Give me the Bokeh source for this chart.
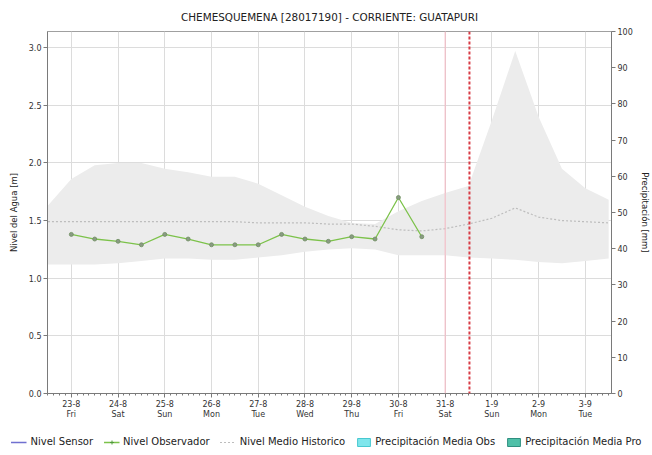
from bokeh.plotting import figure
from bokeh.layouts import column
from bokeh.models import (Range1d, LinearAxis, FixedTicker, Legend, LegendItem, Span,
                          NumeralTickFormatter)
from bokeh.embed import file_html
from bokeh.resources import INLINE

# ---- data ----
tick_days = [0, 1, 2, 3, 4, 5, 6, 7, 8, 9, 10, 11]
tick_labels = ["23-8\nFri", "24-8\nSat", "25-8\nSun", "26-8\nMon", "27-8\nTue", "28-8\nWed",
               "29-8\nThu", "30-8\nFri", "31-8\nSat", "1-9\nSun", "2-9\nMon", "3-9\nTue"]

obs_day = [0, 0.5, 1, 1.5, 2, 2.5, 3, 3.5, 4, 4.5, 5, 5.5, 6, 6.5, 7, 7.5]
obs_level = [1.38, 1.34, 1.32, 1.29, 1.38, 1.34, 1.29, 1.29, 1.29, 1.38, 1.34, 1.32,
             1.36, 1.34, 1.70, 1.36]

sensor_day = []
sensor_level = []

hist_day = [-0.5, 0, 0.5, 1, 1.5, 2, 2.5, 3, 3.5, 4, 4.5, 5, 5.5, 6, 6.5, 7, 7.5,
            8, 8.5, 9, 9.5, 10, 10.5, 11, 11.5]
hist_high = [1.63, 1.86, 1.98, 2.00, 2.00, 1.95, 1.92, 1.88, 1.88, 1.82, 1.72, 1.62, 1.54,
             1.48, 1.47, 1.58, 1.67, 1.74, 1.80, 2.37, 2.97, 2.40, 1.95, 1.78, 1.68]
hist_low = [1.12, 1.12, 1.12, 1.13, 1.15, 1.17, 1.17, 1.16, 1.16, 1.18, 1.20, 1.23, 1.25,
            1.26, 1.25, 1.20, 1.20, 1.20, 1.18, 1.17, 1.16, 1.14, 1.13, 1.15, 1.17]
hist_med = [1.49, 1.49, 1.49, 1.49, 1.49, 1.49, 1.49, 1.49, 1.49, 1.48, 1.48, 1.48, 1.47,
            1.47, 1.45, 1.42, 1.41, 1.43, 1.47, 1.52, 1.61, 1.53, 1.50, 1.49, 1.48]

precip_obs_day = []
precip_obs = []
precip_pro_day = []
precip_pro = []

day_start_marker = 8
now_marker = 8.52

FONT = "DejaVu Sans"

# styles
C_SEN = "#7070d0"
C_OBS = "#7cc24a"
C_MED = "#bdbdbd"
C_PO, C_PO_L = "#7fe6ec", "#48c8d0"
C_PP, C_PP_L = "#4fc0a8", "#2f8f80"

p = figure(width=652, height=428, x_range=Range1d(-0.51, 11.56), y_range=Range1d(0, 3.14),
           output_backend="svg", toolbar_location=None,
           min_border_left=47, min_border_right=41, min_border_top=30, min_border_bottom=35,
           background_fill_color="white", border_fill_color="white")
p.outline_line_color = "#a0a0a0"
p.frame_align = False

p.title.text = "CHEMESQUEMENA [28017190] - CORRIENTE: GUATAPURI"
p.title.align = "center"
p.title.text_font = FONT
p.title.text_font_size = "10.4px"
p.title.text_font_style = "normal"
p.title.text_color = "#222222"
p.title.standoff = 17

p.extra_y_ranges = {"precip": Range1d(0, 100)}

# historical band + median
p.varea(x=hist_day, y1=hist_low, y2=hist_high, fill_color="#ececec", fill_alpha=1.0)
p.line(hist_day, hist_med, line_color=C_MED, line_width=1.2, line_dash="2 2")

# sensor (no data) and observer
p.line(sensor_day, sensor_level, line_color=C_SEN, line_width=1.5)
p.line(obs_day, obs_level, line_color=C_OBS, line_width=1.3)
p.scatter(obs_day, obs_level, marker="circle", size=4, fill_color="#8a9a84",
          line_color="#6e8f60", line_width=0.8)

# precipitation (no data)
p.vbar(x=precip_obs_day, top=precip_obs, width=0.3, y_range_name="precip",
       fill_color=C_PO, line_color=C_PO_L)
p.vbar(x=precip_pro_day, top=precip_pro, width=0.3, y_range_name="precip",
       fill_color=C_PP, line_color=C_PP_L)

p.add_layout(Span(location=day_start_marker, dimension="height", line_color="#f5b5c0",
                  line_width=1))
p.add_layout(Span(location=now_marker, dimension="height", line_color="#d83a44",
                  line_width=2, line_dash="3 2"))

# axes
minor = [d + k / 8 for d in range(-1, 12) for k in range(8)]
p.xaxis.ticker = FixedTicker(ticks=tick_days, minor_ticks=minor)
p.xaxis.major_label_overrides = {d: lab for d, lab in zip(tick_days, tick_labels)}
p.yaxis.ticker = FixedTicker(ticks=[0, 0.5, 1.0, 1.5, 2.0, 2.5, 3.0])
p.yaxis.formatter = NumeralTickFormatter(format="0.0")
p.yaxis.axis_label = "Nivel del Agua [m]"

right = LinearAxis(y_range_name="precip", ticker=FixedTicker(ticks=list(range(0, 101, 10))),
                   axis_label="Precipitación [mm]")
p.add_layout(right, "right")

for ax in [p.xaxis[0], p.yaxis[0], right]:
    ax.axis_line_color = "#7a7a7a"
    ax.major_tick_line_color = "#7a7a7a"
    ax.minor_tick_line_color = "#7a7a7a"
    ax.major_tick_out = 4
    ax.major_tick_in = 0
    ax.minor_tick_out = 2
    ax.minor_tick_in = 0
    ax.major_label_text_font = FONT
    ax.major_label_text_font_size = "8px"
    ax.major_label_text_color = "#333333"
    ax.axis_label_text_font = FONT
    ax.axis_label_text_font_size = "8.5px"
    ax.axis_label_text_font_style = "normal"
    ax.axis_label_text_color = "#222222"
    ax.major_label_standoff = 2
p.yaxis[0].axis_label_standoff = 7
right.axis_label_standoff = 4
p.yaxis[0].minor_tick_line_color = None
right.minor_tick_line_color = None
p.xaxis.major_label_standoff = 2

p.xgrid.ticker = FixedTicker(ticks=tick_days)
p.ygrid.ticker = FixedTicker(ticks=[0.5, 1.0, 1.5, 2.0, 2.5, 3.0])
p.xgrid.grid_line_color = "#dcdcdc"
p.ygrid.grid_line_color = "#dcdcdc"

# ---- legend strip (separate figure so it may be wider than the plot frame) ----
# its renderers reuse the data but the ranges keep them out of view: only the legend shows
lg = figure(width=652, height=27, x_range=Range1d(-30, -29), y_range=Range1d(-30, -29),
            x_axis_type=None, y_axis_type=None,
            output_backend="svg", toolbar_location=None,
            min_border_left=0, min_border_right=0, min_border_top=0, min_border_bottom=0)
lg.frame_align = False
lg.grid.visible = False
lg.outline_line_color = None
l_sen = lg.line(obs_day, obs_level, line_color=C_SEN, line_width=1.5)
l_obs = lg.line(obs_day, obs_level, line_color=C_OBS, line_width=1.3)
l_obm = lg.scatter(obs_day, obs_level, marker="cross", size=5, line_color="#4f9a3a",
                   line_width=1)
l_med = lg.line(hist_day, hist_med, line_color=C_MED, line_width=1.2, line_dash="2 2")
l_po = lg.vbar(x=obs_day, top=obs_level, width=0.3, fill_color=C_PO, line_color=C_PO_L)
l_pp = lg.vbar(x=obs_day, top=obs_level, width=0.3, fill_color=C_PP, line_color=C_PP_L)

legend = Legend(items=[
    LegendItem(label="Nivel Sensor", renderers=[l_sen]),
    LegendItem(label="Nivel Observador", renderers=[l_obs, l_obm]),
    LegendItem(label="Nivel Medio Historico", renderers=[l_med]),
    LegendItem(label="Precipitación Media Obs", renderers=[l_po]),
    LegendItem(label="Precipitación Media Pro", renderers=[l_pp]),
], location="center", orientation="horizontal")
legend.background_fill_alpha = 0
legend.border_line_color = None
legend.label_text_font = FONT
legend.label_text_font_size = "10px"
legend.label_text_color = "#222222"
legend.glyph_width = 16
legend.glyph_height = 10
legend.label_height = 12
legend.label_standoff = 4
legend.spacing = 10
legend.padding = 0
legend.margin = 0
lg.add_layout(legend)

layout = column(p, lg, spacing=0)
open("out.html", "w").write(file_html(layout, INLINE))
